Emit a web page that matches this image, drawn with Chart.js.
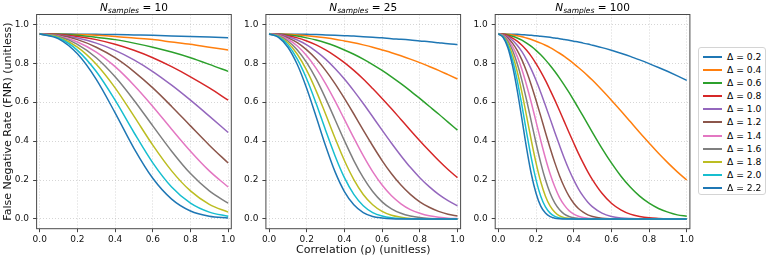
<!DOCTYPE html>
<html>
<head>
<meta charset="utf-8">
<script src="https://cdn.jsdelivr.net/npm/chart.js@4.4.1/dist/chart.umd.min.js"></script>
<style>
  html, body { margin: 0; padding: 0; background: #fff; }
  #wrap { position: relative; width: 768px; height: 260px; overflow: hidden; font-family: "DejaVu Sans", sans-serif; }
  #wrap canvas { position: absolute; top: 0; }
  .ttl { position: absolute; top: 0; line-height: 15px; font-size: 10.5px; white-space: nowrap; transform: translateX(-50%); color: #000; }
  .ttl sub { font-size: 7.5px; vertical-align: -2px; line-height: 0; }
  #legend { position: absolute; left: 698px; top: 47px; width: 68px; height: 148px; box-sizing: border-box;
            border: 1px solid #d4d4d4; border-radius: 3px; background: #fff; font-size: 9.2px; z-index: 5; }
  .row { position: absolute; left: 0; width: 100%; height: 13px; line-height: 13px; }
  .ln { position: absolute; left: 4px; top: 6px; width: 19px; height: 0; border-top: 2px solid; }
  .lt { position: absolute; left: 28px; top: 0; white-space: nowrap; color: #000; }
</style>
</head>
<body>
<div id="wrap">
  <canvas id="c0" width="246" height="260" style="left:0px"></canvas>
  <canvas id="c1" width="246" height="260" style="left:229px"></canvas>
  <canvas id="c2" width="246" height="260" style="left:458px"></canvas>
  <div id="legend"></div>
</div>
<script>
// correlation grids (x) per panel
const rho10 = [0, 0.1, 0.2, 0.3, 0.4, 0.5, 0.6, 0.7, 0.8, 0.9, 1.0];
const rho25 = [0, 0.05, 0.1, 0.15, 0.2, 0.25, 0.3, 0.35, 0.4, 0.45, 0.5,
               0.55, 0.6, 0.65, 0.7, 0.75, 0.8, 0.85, 0.9, 0.95, 1.0];
const rho100 = [0, 0.025, 0.05, 0.075, 0.1, 0.125, 0.15, 0.175, 0.2, 0.225, 0.25,
                0.275, 0.3, 0.325, 0.35, 0.375, 0.4, 0.425, 0.45, 0.475, 0.5,
                0.55, 0.6, 0.65, 0.7, 0.75, 0.8, 0.85, 0.9, 0.95, 1.0];

const deltas = ["0.2", "0.4", "0.6", "0.8", "1.0", "1.2", "1.4", "1.6", "1.8", "2.0", "2.2"];
const nSamples = [10, 25, 100];
const xTicks = [0, 0.2, 0.4, 0.6, 0.8, 1.0];
const yTicks = [0, 0.2, 0.4, 0.6, 0.8, 1.0];

// FNR, one row per delta
const fnr10 = [
  [0.950, 0.950, 0.949, 0.948, 0.947, 0.945, 0.943, 0.940, 0.937, 0.934, 0.931],
  [0.950, 0.949, 0.947, 0.943, 0.937, 0.929, 0.921, 0.909, 0.897, 0.882, 0.868],
  [0.950, 0.948, 0.943, 0.933, 0.921, 0.903, 0.882, 0.857, 0.828, 0.794, 0.758],
  [0.950, 0.947, 0.937, 0.921, 0.897, 0.866, 0.828, 0.782, 0.730, 0.673, 0.610],
  [0.950, 0.945, 0.929, 0.903, 0.866, 0.817, 0.757, 0.687, 0.610, 0.528, 0.444],
  [0.950, 0.943, 0.921, 0.882, 0.828, 0.757, 0.673, 0.578, 0.478, 0.379, 0.287],
  [0.950, 0.940, 0.909, 0.857, 0.782, 0.687, 0.578, 0.461, 0.348, 0.247, 0.164],
  [0.950, 0.937, 0.897, 0.828, 0.730, 0.610, 0.478, 0.348, 0.233, 0.144, 0.081],
  [0.950, 0.933, 0.882, 0.794, 0.673, 0.528, 0.379, 0.247, 0.144, 0.075, 0.035],
  [0.950, 0.929, 0.866, 0.757, 0.610, 0.444, 0.288, 0.164, 0.081, 0.035, 0.014],
  [0.950, 0.925, 0.848, 0.717, 0.545, 0.363, 0.209, 0.102, 0.041, 0.014, 0.005]
];

const fnr25 = [
  [0.950, 0.950, 0.949, 0.949, 0.948, 0.947, 0.945, 0.943, 0.941, 0.939, 0.936, 0.933, 0.930, 0.926, 0.923, 0.919, 0.914, 0.910, 0.905, 0.900, 0.896],
  [0.950, 0.949, 0.948, 0.945, 0.941, 0.936, 0.930, 0.923, 0.914, 0.905, 0.894, 0.882, 0.868, 0.854, 0.838, 0.821, 0.803, 0.783, 0.763, 0.741, 0.719],
  [0.950, 0.949, 0.945, 0.939, 0.930, 0.919, 0.905, 0.888, 0.868, 0.846, 0.821, 0.793, 0.763, 0.730, 0.695, 0.658, 0.619, 0.579, 0.539, 0.497, 0.456],
  [0.950, 0.948, 0.941, 0.930, 0.914, 0.894, 0.868, 0.838, 0.803, 0.763, 0.719, 0.670, 0.619, 0.566, 0.511, 0.456, 0.402, 0.350, 0.300, 0.254, 0.212],
  [0.950, 0.947, 0.936, 0.919, 0.894, 0.861, 0.821, 0.773, 0.719, 0.658, 0.593, 0.525, 0.456, 0.389, 0.325, 0.265, 0.212, 0.166, 0.126, 0.094, 0.068],
  [0.950, 0.945, 0.930, 0.905, 0.868, 0.821, 0.763, 0.695, 0.619, 0.539, 0.456, 0.376, 0.300, 0.232, 0.174, 0.126, 0.088, 0.060, 0.039, 0.024, 0.015],
  [0.950, 0.943, 0.923, 0.888, 0.838, 0.773, 0.695, 0.606, 0.511, 0.416, 0.325, 0.243, 0.174, 0.119, 0.078, 0.048, 0.029, 0.016, 0.009, 0.004, 0.002],
  [0.950, 0.941, 0.914, 0.868, 0.803, 0.719, 0.619, 0.511, 0.402, 0.300, 0.212, 0.141, 0.088, 0.052, 0.029, 0.015, 0.007, 0.003, 0.001, 0.001, 0.000],
  [0.950, 0.939, 0.905, 0.846, 0.763, 0.658, 0.539, 0.416, 0.300, 0.202, 0.126, 0.073, 0.039, 0.019, 0.009, 0.003, 0.001, 0.000, 0.000, 0.000, 0.000],
  [0.950, 0.936, 0.894, 0.821, 0.719, 0.593, 0.456, 0.325, 0.212, 0.126, 0.068, 0.033, 0.015, 0.006, 0.002, 0.001, 0.000, 0.000, 0.000, 0.000, 0.000],
  [0.950, 0.933, 0.882, 0.793, 0.670, 0.525, 0.376, 0.243, 0.141, 0.073, 0.033, 0.013, 0.005, 0.001, 0.000, 0.000, 0.000, 0.000, 0.000, 0.000, 0.000]
];

const fnr100 = [
  [0.950, 0.950, 0.949, 0.949, 0.948, 0.946, 0.945, 0.943, 0.941, 0.938, 0.936, 0.933, 0.929, 0.926, 0.922, 0.918, 0.913, 0.909, 0.903, 0.898, 0.892,
   0.880, 0.866, 0.851, 0.835, 0.817, 0.798, 0.778, 0.757, 0.735, 0.712],
  [0.950, 0.949, 0.948, 0.945, 0.941, 0.936, 0.929, 0.922, 0.913, 0.903, 0.892, 0.880, 0.866, 0.851, 0.835, 0.817, 0.798, 0.778, 0.757, 0.735, 0.712,
   0.662, 0.610, 0.556, 0.500, 0.444, 0.390, 0.337, 0.288, 0.242, 0.200],
  [0.950, 0.949, 0.945, 0.938, 0.929, 0.918, 0.903, 0.886, 0.866, 0.843, 0.817, 0.788, 0.757, 0.723, 0.687, 0.650, 0.610, 0.569, 0.528, 0.486, 0.444,
   0.363, 0.288, 0.221, 0.164, 0.117, 0.081, 0.054, 0.035, 0.021, 0.014],
  [0.950, 0.948, 0.941, 0.929, 0.913, 0.892, 0.866, 0.835, 0.798, 0.757, 0.712, 0.662, 0.610, 0.556, 0.500, 0.444, 0.390, 0.337, 0.288, 0.242, 0.201,
   0.132, 0.081, 0.047, 0.025, 0.013, 0.006, 0.003, 0.001, 0.000, 0.000],
  [0.950, 0.946, 0.936, 0.918, 0.892, 0.859, 0.817, 0.768, 0.712, 0.650, 0.583, 0.514, 0.444, 0.377, 0.312, 0.253, 0.201, 0.155, 0.117, 0.086, 0.062,
   0.030, 0.013, 0.005, 0.002, 0.001, 0.000, 0.000, 0.000, 0.000, 0.000],
  [0.950, 0.945, 0.929, 0.903, 0.866, 0.817, 0.757, 0.687, 0.610, 0.528, 0.444, 0.363, 0.288, 0.221, 0.164, 0.117, 0.081, 0.054, 0.035, 0.021, 0.013,
   0.004, 0.001, 0.000, 0.000, 0.000, 0.000, 0.000, 0.000, 0.000, 0.000],
  [0.950, 0.943, 0.922, 0.886, 0.835, 0.768, 0.687, 0.597, 0.500, 0.403, 0.312, 0.231, 0.164, 0.110, 0.071, 0.043, 0.025, 0.014, 0.007, 0.004, 0.002,
   0.000, 0.000, 0.000, 0.000, 0.000, 0.000, 0.000, 0.000, 0.000, 0.000],
  [0.950, 0.941, 0.913, 0.866, 0.798, 0.712, 0.610, 0.500, 0.390, 0.288, 0.201, 0.132, 0.081, 0.047, 0.025, 0.013, 0.006, 0.003, 0.001, 0.000, 0.000,
   0.000, 0.000, 0.000, 0.000, 0.000, 0.000, 0.000, 0.000, 0.000, 0.000],
  [0.950, 0.938, 0.903, 0.843, 0.757, 0.650, 0.528, 0.403, 0.288, 0.191, 0.117, 0.066, 0.035, 0.016, 0.007, 0.003, 0.001, 0.000, 0.000, 0.000, 0.000,
   0.000, 0.000, 0.000, 0.000, 0.000, 0.000, 0.000, 0.000, 0.000, 0.000],
  [0.950, 0.936, 0.892, 0.817, 0.712, 0.583, 0.444, 0.312, 0.201, 0.117, 0.062, 0.030, 0.013, 0.005, 0.002, 0.001, 0.000, 0.000, 0.000, 0.000, 0.000,
   0.000, 0.000, 0.000, 0.000, 0.000, 0.000, 0.000, 0.000, 0.000, 0.000],
  [0.950, 0.933, 0.880, 0.788, 0.662, 0.514, 0.363, 0.231, 0.132, 0.066, 0.030, 0.012, 0.004, 0.001, 0.000, 0.000, 0.000, 0.000, 0.000, 0.000, 0.000,
   0.000, 0.000, 0.000, 0.000, 0.000, 0.000, 0.000, 0.000, 0.000, 0.000]
];

const colors = ["#1f77b4", "#ff7f0e", "#2ca02c", "#d62728", "#9467bd", "#8c564b",
                "#e377c2", "#7f7f7f", "#bcbd22", "#17becf", "#1f77b4"];

const panels = [
  { id: "c0", rho: rho10, fnr: fnr10, canvasLeft: 0, spine: 36.6 },
  { id: "c1", rho: rho25, fnr: fnr25, canvasLeft: 229, spine: 265.9 },
  { id: "c2", rho: rho100, fnr: fnr100, canvasLeft: 458, spine: 495.2 }
];
const plotW = 194.7, plotTop = 14.5, plotBottom = 228.7, canvasW = 246, canvasH = 260;

const FONT = "DejaVu Sans";

// top/right spines
const frame = {
  id: "frame",
  afterDraw(chart) {
    const a = chart.chartArea, c = chart.ctx;
    c.save();
    c.strokeStyle = "#4a4a4a";
    c.lineWidth = 1;
    c.strokeRect(a.left, a.top, a.right - a.left, a.bottom - a.top);
    c.restore();
  }
};

panels.forEach((p, k) => {
  const yw = p.spine - p.canvasLeft;
  const datasets = p.fnr.map((vals, i) => ({
    label: "Δ = " + deltas[i],
    data: p.rho.map((r, j) => ({ x: r, y: vals[j] })),
    borderColor: colors[i],
    borderWidth: 1.5,
    pointRadius: 0,
    fill: false,
    cubicInterpolationMode: "monotone",
    order: deltas.length - i
  }));

  new Chart(document.getElementById(p.id), {
    type: "line",
    data: { datasets },
    options: {
      responsive: false,
      animation: false,
      events: [],
      layout: { padding: { top: plotTop, left: 0, bottom: 0, right: canvasW - yw - plotW } },
      plugins: { legend: { display: false }, tooltip: { enabled: false } },
      scales: {
        x: {
          type: "linear",
          min: -0.0167,
          max: 1.0167,
          afterBuildTicks: s => { s.ticks = xTicks.map(v => ({ value: v })); },
          afterFit: s => { s.height = canvasH - plotBottom; },
          ticks: {
            font: { family: FONT, size: 9 },
            color: "#111",
            padding: 2.5,
            maxRotation: 0,
            autoSkip: false,
            callback: v => Number(v).toFixed(1)
          },
          grid: { color: "rgba(160,160,160,0.55)", lineWidth: 0.8, tickLength: 3.5,
                  tickColor: "#444", tickWidth: 1 },
          border: { display: false, dash: [1, 2] },
          title: {
            display: k === 1,
            text: "Correlation (ρ) (unitless)",
            font: { family: FONT, size: 11 },
            color: "#111",
            padding: { top: 0, bottom: 3.4 }
          }
        },
        y: {
          type: "linear",
          min: -0.05,
          max: 1.05,
          afterBuildTicks: s => { s.ticks = yTicks.map(v => ({ value: v })); },
          afterFit: s => { s.width = yw; },
          ticks: {
            font: { family: FONT, size: 9 },
            color: "#111",
            padding: 4,
            callback: v => Number(v).toFixed(1)
          },
          grid: { color: "rgba(160,160,160,0.55)", lineWidth: 0.8, tickLength: 3.5,
                  tickColor: "#444", tickWidth: 1 },
          border: { display: false, dash: [1, 2] },
          title: {
            display: k === 0,
            text: "False Negative Rate (FNR) (unitless)",
            font: { family: FONT, size: 11 },
            color: "#111",
            padding: { top: 2, bottom: 0 }
          }
        }
      }
    },
    plugins: [frame]
  });

  // panel title with subscript
  const t = document.createElement("div");
  t.className = "ttl";
  t.style.left = (p.spine + plotW / 2) + "px";
  t.innerHTML = "<i>N</i><sub><i>samples</i></sub> = " + nSamples[k];
  document.getElementById("wrap").appendChild(t);
});

// legend
const leg = document.getElementById("legend");
deltas.forEach((d, i) => {
  const row = document.createElement("div");
  row.className = "row";
  row.style.top = Math.round(1.5 + i * 13.17) + "px";
  row.innerHTML = '<span class="ln" style="border-color:' + colors[i] + '"></span>' +
                  '<span class="lt">Δ = ' + d + '</span>';
  leg.appendChild(row);
});
</script>
</body>
</html>
